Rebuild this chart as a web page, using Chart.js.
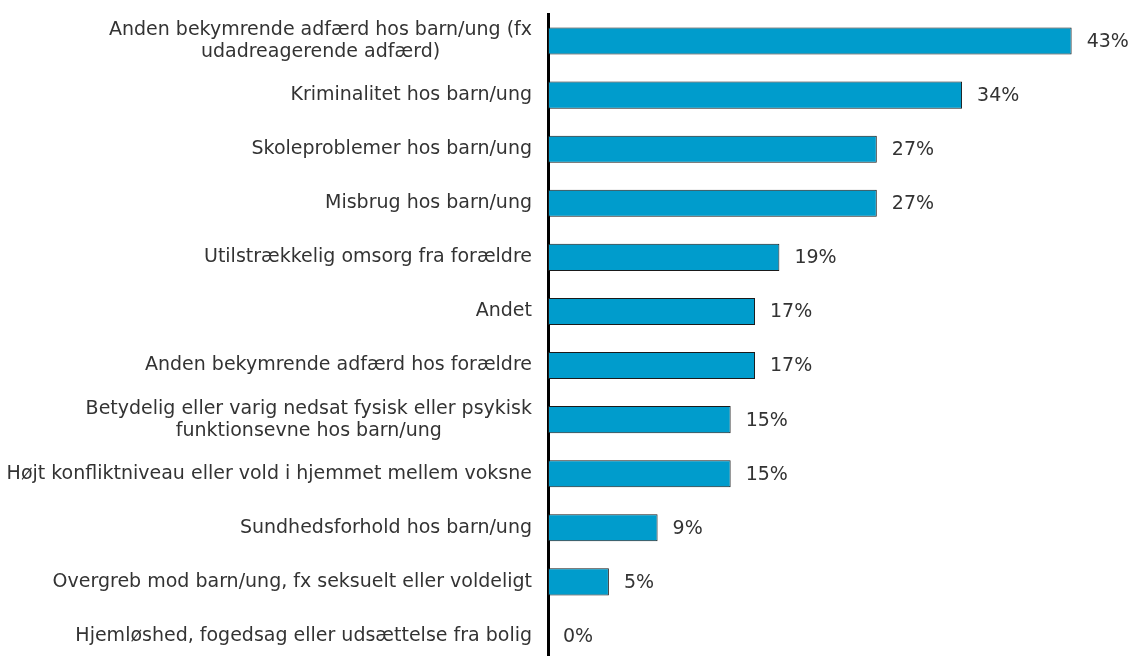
<!DOCTYPE html>
<html>
<head>
<meta charset="utf-8">
<script src="https://cdn.jsdelivr.net/npm/chart.js@4/dist/chart.umd.min.js"></script>
<style>
  html, body { margin: 0; padding: 0; background: #fff; overflow: hidden; }
  #wrap { width: 1134px; height: 663px; }
</style>
</head>
<body>
<div id="wrap"><canvas id="chart"></canvas></div>
<script>
const categories = [
  ["Anden bekymrende adfærd hos barn/ung (fx", "udadreagerende adfærd)"],
  "Kriminalitet hos barn/ung",
  "Skoleproblemer hos barn/ung",
  "Misbrug hos barn/ung",
  "Utilstrækkelig omsorg fra forældre",
  "Andet",
  "Anden bekymrende adfærd hos forældre",
  ["Betydelig eller varig nedsat fysisk eller psykisk", "funktionsevne hos barn/ung"],
  "Højt konfliktniveau eller vold i hjemmet mellem voksne",
  "Sundhedsforhold hos barn/ung",
  "Overgreb mod barn/ung, fx seksuelt eller voldeligt",
  "Hjemløshed, fogedsag eller udsættelse fra bolig"
];
const values = [43, 34, 27, 27, 19, 17, 17, 15, 15, 9, 5, 0];

const FONT_FAMILY = "'DejaVu Sans', Verdana, sans-serif";
const FONT_SIZE = 19;
const LINE_H = 22;

// category labels (multi-line blocks centred, right edge at the axis) + percent labels
const labelsPlugin = {
  id: "labelsPlugin",
  afterDatasetsDraw(chart) {
    const ctx = chart.ctx;
    const yScale = chart.scales.y;
    const meta = chart.getDatasetMeta(0);
    ctx.save();
    ctx.font = FONT_SIZE + "px " + FONT_FAMILY;
    ctx.fillStyle = "#333";
    ctx.textBaseline = "middle";

    const right = yScale.right - 16;
    categories.forEach((lab, i) => {
      const lines = Array.isArray(lab) ? lab : [lab];
      const y = yScale.getPixelForTick(i);
      const blockW = Math.max(...lines.map(l => ctx.measureText(l).width));
      const cx = right - blockW / 2;
      ctx.textAlign = "center";
      lines.forEach((l, k) => {
        const ly = y + (k - (lines.length - 1) / 2) * LINE_H;
        ctx.fillText(l, cx, ly);
      });
    });

    ctx.textAlign = "left";
    meta.data.forEach((bar, i) => {
      ctx.fillText(values[i] + "%", bar.x + 15, bar.y + 1);
    });
    ctx.restore();
  }
};

new Chart(document.getElementById("chart"), {
  type: "bar",
  data: {
    labels: categories,
    datasets: [{
      data: values,
      backgroundColor: "#009ccc",
      borderColor: "#1a1a1a",
      borderWidth: 1,
      borderSkipped: false,
      categoryPercentage: 1,
      barPercentage: 0.5
    }]
  },
  options: {
    indexAxis: "y",
    responsive: true,
    maintainAspectRatio: false,
    animation: false,
    layout: { padding: { top: 14, right: 38, bottom: 0, left: 0 } },
    plugins: {
      legend: { display: false },
      tooltip: { enabled: false }
    },
    scales: {
      x: {
        display: false,
        min: 0,
        max: 45
      },
      y: {
        afterFit: (scale) => { scale.width = 548; },
        grid: { display: false, drawTicks: false },
        border: { display: true, color: "#000", width: 3 },
        ticks: { display: false }
      }
    }
  },
  plugins: [labelsPlugin]
});
</script>
</body>
</html>
